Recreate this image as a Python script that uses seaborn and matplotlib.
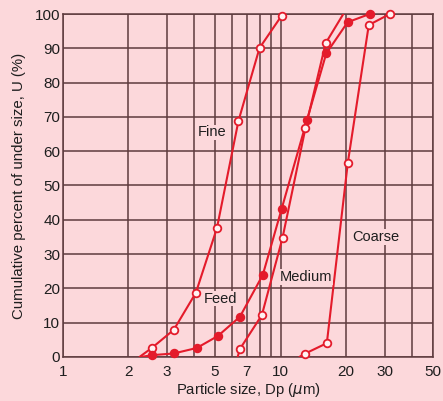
import numpy as np
import pandas as pd
import seaborn as sns
import matplotlib.pyplot as plt
from matplotlib.ticker import FixedLocator, FixedFormatter, NullLocator

sns.set_style('white')
plt.rcParams['font.family'] = ['Liberation Sans', 'DejaVu Sans']

# particle size (um) and cumulative undersize (%)
fine_x = [2.25, 2.56, 3.23, 4.08, 5.1, 6.4, 8.0, 10.1]
fine_y = [0, 2.6, 7.9, 18.7, 37.6, 68.8, 90.1, 99.5]
feed_x = [2.3, 2.56, 3.23, 4.12, 5.15, 6.5, 8.28, 10.1, 13.2, 16.2, 20.3, 25.6]
feed_y = [0, 0.5, 1.0, 2.6, 6.1, 11.7, 23.9, 43.1, 69.0, 88.5, 97.6, 100]
medium_x = [6.35, 6.5, 8.2, 10.2, 13.0, 16.1, 19.4]
medium_y = [0, 2.3, 12.2, 34.7, 66.7, 91.5, 100]
coarse_x = [12.2, 12.9, 16.3, 20.35, 25.4, 31.7]
coarse_y = [0, 0.9, 4.0, 56.6, 96.8, 100]

# which points carry a marker (first point of most curves is only the line start)
fine_marks = [1, 2, 3, 4, 5, 6, 7]
feed_marks = [1, 2, 3, 4, 5, 6, 7, 8, 9, 10, 11]
medium_marks = [1, 2, 3, 4, 5]
coarse_marks = [1, 2, 3, 4, 5]

labels = ['Fine', 'Feed', 'Medium', 'Coarse']
label_pos = [(4.15, 65.5), (4.45, 17), (9.9, 23.3), (21.4, 35)]

xticks = [1, 2, 3, 5, 7, 10, 20, 30, 50]
xgrid = [1, 2, 3, 4, 5, 6, 7, 8, 9, 10, 20, 30, 40, 50]
yticks = list(range(0, 101, 10))

bg = '#fcd8db'
grid_col = '#5e3b3e'
red = '#e41b2b'
ink = '#1e1e1e'

fig = plt.figure(figsize=(4.43, 4.01), dpi=100, facecolor=bg)
ax = fig.add_axes([0.142, 0.11, 0.835, 0.855])
ax.set_facecolor(bg)

series = [
    (fine_x, fine_y, fine_marks, 'open'),
    (feed_x, feed_y, feed_marks, 'filled'),
    (medium_x, medium_y, medium_marks, 'open'),
    (coarse_x, coarse_y, coarse_marks, 'open'),
]
for xs, ys, marks, style in series:
    df = pd.DataFrame({'size': xs, 'U': ys})
    sns.lineplot(data=df, x='size', y='U', ax=ax, sort=False, color=red,
                 linewidth=1.5, zorder=3)
    face = red if style == 'filled' else '#fff2f2'
    ax.plot(df['size'].iloc[marks], df['U'].iloc[marks], linestyle='none',
            marker='o', markersize=5.5, markerfacecolor=face,
            markeredgecolor=red, markeredgewidth=1.3, zorder=4, clip_on=False)

for name, (lx, ly) in zip(labels, label_pos):
    ax.text(lx, ly, name, fontsize=10.5, color=ink, ha='left', va='center',
            zorder=5, bbox=dict(facecolor=bg, edgecolor='none', pad=0.5))

ax.set_xscale('log')
ax.set_xlim(1, 50)
ax.set_ylim(0, 100)
ax.xaxis.set_major_locator(FixedLocator(xticks))
ax.xaxis.set_major_formatter(FixedFormatter([str(t) for t in xticks]))
ax.xaxis.set_minor_locator(NullLocator())
ax.set_yticks(yticks)

for gx in xgrid:
    ax.axvline(gx, color=grid_col, linewidth=1.1, zorder=1)
for gy in yticks:
    ax.axhline(gy, color=grid_col, linewidth=1.1, zorder=1)

for s in ax.spines.values():
    s.set_color(grid_col)
    s.set_linewidth(1.1)

ax.tick_params(axis='both', length=0, labelsize=11, colors=ink)
ax.tick_params(axis='x', pad=6)
ax.tick_params(axis='y', pad=2)

ax.set_xlabel('Particle size, Dp ($\\mu$m)', fontsize=10.7, color=ink, labelpad=1)
ax.set_ylabel('Cumulative percent of under size, U (%)', fontsize=10.8,
              color=ink, labelpad=6)

fig.savefig('out.png', dpi=100, facecolor=bg)
